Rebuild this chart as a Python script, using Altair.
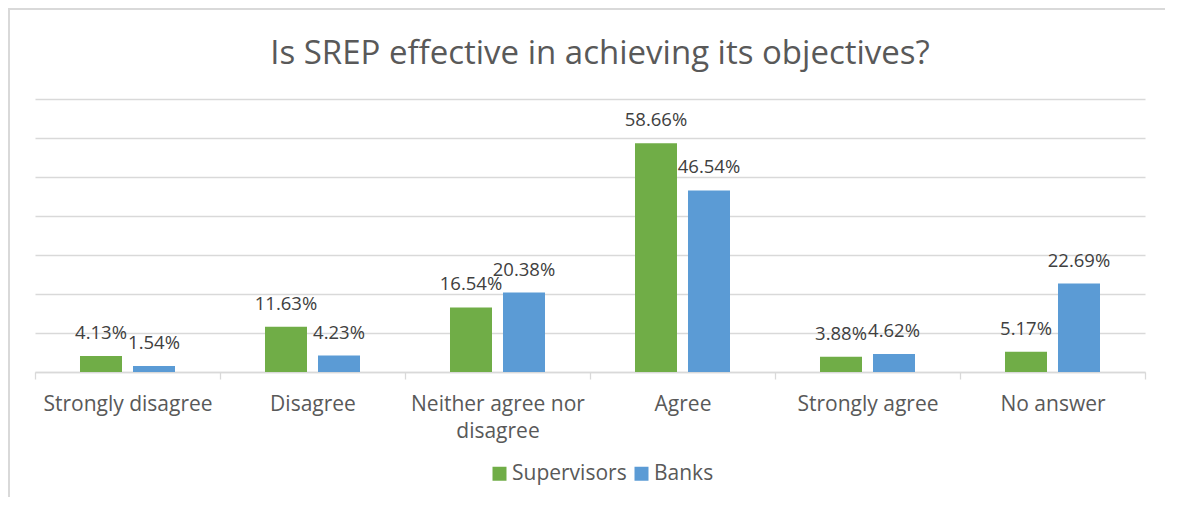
import altair as alt
import pandas as pd

categories = ["Strongly disagree", "Disagree", "Neither agree nor disagree",
              "Agree", "Strongly agree", "No answer"]
supervisors = [4.13, 11.63, 16.54, 58.66, 3.88, 5.17]
banks = [1.54, 4.23, 20.38, 46.54, 4.62, 22.69]
series = ["Supervisors", "Banks"]
colors = ["#70AD47", "#5B9BD5"]

rows = []
for c, s, b in zip(categories, supervisors, banks):
    rows.append({"category": c, "series": "Supervisors", "value": s})
    rows.append({"category": c, "series": "Banks", "value": b})
df = pd.DataFrame(rows)
df["label"] = df["value"].map(lambda v: f"{v:.2f}%")

FONT = "Open Sans"

x = alt.X("category:N", sort=categories, title=None,
          scale=alt.Scale(paddingInner=0, paddingOuter=0),
          axis=alt.Axis(
              labelExpr="datum.value == 'Neither agree nor disagree' ? ['Neither agree nor', 'disagree'] : datum.value",
              labelAngle=0, labelFont=FONT, labelFontSize=21, labelColor="#595959",
              labelPadding=14, labelLineHeight=27,
              domainColor="#D9D9D9", domainWidth=1.3, tickColor="#D9D9D9", tickWidth=1.3,
              tickSize=7, tickBand="extent", grid=False))
xo = alt.XOffset("series:N", sort=series,
                 scale=alt.Scale(paddingInner=0.2075, paddingOuter=0.849))
y = alt.Y("value:Q", title=None,
          scale=alt.Scale(domain=[0, 70], nice=False),
          axis=alt.Axis(values=[0, 10, 20, 30, 40, 50, 60, 70], labels=False, ticks=False,
                        domain=False, grid=True, gridColor="#D9D9D9", gridWidth=1.3,
                        minExtent=0, maxExtent=0))

bars = alt.Chart(df).mark_bar().encode(
    x=x, xOffset=xo, y=y,
    color=alt.Color("series:N", sort=series,
                    scale=alt.Scale(domain=series, range=colors),
                    legend=alt.Legend(title=None, orient="none", direction="horizontal",
                                      legendX=454, legendY=364, symbolType="square",
                                      symbolSize=196, symbolStrokeWidth=0,
                                      labelFont=FONT, labelFontSize=21, labelColor="#595959",
                                      columnPadding=4, labelOffset=2)),
)

labels = alt.Chart(df).mark_text(font=FONT, fontSize=18.5, color="#404040",
                                 baseline="alphabetic", dy=-17).encode(
    x=x, xOffset=xo, y=y, text="label:N")

border_left = alt.Chart().mark_rule(color="#D9D9D9", strokeWidth=2).encode(
    x=alt.value(-26), y=alt.value(-91), y2=alt.value(460))
border_top = alt.Chart().mark_rule(color="#D9D9D9", strokeWidth=2).encode(
    x=alt.value(-27), x2=alt.value(1160), y=alt.value(-90))

chart = alt.layer(bars, labels, border_left, border_top).properties(
    width=1110, height=273,
    background="white",
    autosize=alt.AutoSizeParams(type="none"),
    padding={"left": 27, "top": 91, "right": 20, "bottom": 125},
    title=alt.TitleParams("Is SREP effective in achieving its objectives?",
                          font=FONT, fontSize=33, fontWeight="normal",
                          color="#595959", anchor="middle", offset=0, dy=64, dx=10),
).configure_view(strokeWidth=0, stroke="transparent")

chart.save("out.html", embed_options={"renderer": "svg", "actions": False})
